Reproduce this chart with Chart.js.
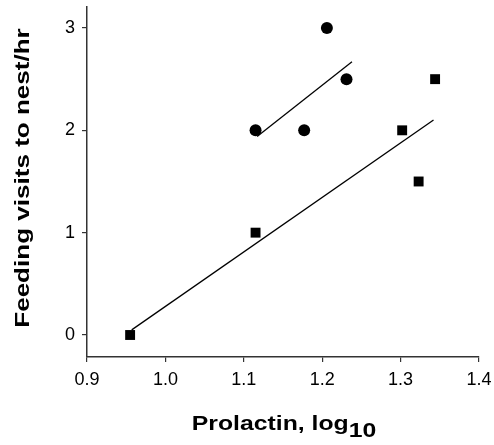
<!DOCTYPE html>
<html>
<head>
<meta charset="utf-8">
<script src="https://cdn.jsdelivr.net/npm/chart.js@4"></script>
<style>
  html, body { margin: 0; padding: 0; background: #fff; }
  #wrap { width: 494px; height: 445px; }
</style>
</head>
<body>
<div id="wrap"><canvas id="chart" width="494" height="445"></canvas></div>
<script>
// Data
const circleX = [1.115, 1.177, 1.206, 1.231];
const circleY = [2, 2, 3, 2.5];
const squareX = [0.955, 1.115, 1.302, 1.323, 1.344];
const squareY = [0, 1, 2, 1.5, 2.5];

// Regression line end points
const circleFitX = [1.117, 1.238];
const circleFitY = [1.94, 2.67];
const squareFitX = [0.957, 1.342];
const squareFitY = [0.05, 2.10];

// Tick labels
const xTickValues = [0.9, 1.0, 1.1, 1.2, 1.3, 1.4];
const yTickValues = [0, 1, 2, 3];

const xTitle = 'Prolactin, log';
const xTitleSub = '10';
const yTitle = 'Feeding visits to nest/hr';

function toPoints(xs, ys) {
    return xs.map((x, i) => ({ x: x, y: ys[i] }));
}

// Draws the axis titles (x title has a lowered "10")
const axisTitles = {
    id: 'axisTitles',
    afterDraw(chart) {
        const ctx = chart.ctx;
        ctx.save();
        ctx.fillStyle = '#000';
        ctx.font = 'bold 21px "Liberation Sans", Arial, sans-serif';
        ctx.textBaseline = 'alphabetic';

        // x title
        const stretchX = 1.18;
        const w1 = ctx.measureText(xTitle).width;
        const w2 = ctx.measureText(xTitleSub).width;
        const total = (w1 + w2) * stretchX;
        ctx.save();
        ctx.translate(284 - total / 2, 430);
        ctx.scale(stretchX, 1);
        ctx.textAlign = 'left';
        ctx.fillText(xTitle, 0, 0);
        ctx.fillText(xTitleSub, w1, 7);
        ctx.restore();

        // y title
        ctx.save();
        ctx.translate(29, 178);
        ctx.rotate(-Math.PI / 2);
        ctx.scale(1.24, 1);
        ctx.textAlign = 'center';
        ctx.fillText(yTitle, 0, 0);
        ctx.restore();

        ctx.restore();
    }
};

// keep the plot box where the reference has it, labels may overflow
function noLabelPadding(scale) {
    scale.paddingTop = 0;
    scale.paddingBottom = 0;
    scale.paddingLeft = 0;
    scale.paddingRight = 0;
}

const axisColor = '#333';
const tickFont = { family: '"Liberation Sans", Arial, sans-serif', size: 18 };

new Chart(document.getElementById('chart'), {
    type: 'scatter',
    data: {
        datasets: [
            {
                label: 'circles',
                data: toPoints(circleX, circleY),
                pointStyle: 'circle',
                pointRadius: 6,
                backgroundColor: '#000',
                borderColor: '#000',
                borderWidth: 0
            },
            {
                label: 'squares',
                data: toPoints(squareX, squareY),
                pointStyle: 'rect',
                pointRadius: 7,
                backgroundColor: '#000',
                borderColor: '#000',
                borderWidth: 0
            },
            {
                label: 'circle fit',
                type: 'line',
                data: toPoints(circleFitX, circleFitY),
                borderColor: '#000',
                borderWidth: 1.3,
                pointRadius: 0,
                fill: false,
                tension: 0
            },
            {
                label: 'square fit',
                type: 'line',
                data: toPoints(squareFitX, squareFitY),
                borderColor: '#000',
                borderWidth: 1.3,
                pointRadius: 0,
                fill: false,
                tension: 0
            }
        ]
    },
    options: {
        responsive: false,
        animation: false,
        layout: { padding: { left: 0, right: 15, top: 7, bottom: 0 } },
        plugins: {
            legend: { display: false },
            tooltip: { enabled: false }
        },
        scales: {
            x: {
                type: 'linear',
                min: 0.9,
                max: 1.4,
                afterBuildTicks: scale => {
                    scale.ticks = xTickValues.map(v => ({ value: v }));
                },
                afterFit: scale => {
                    scale.height = 88;
                    noLabelPadding(scale);
                },
                ticks: {
                    color: '#000',
                    font: tickFont,
                    padding: 7,
                    maxRotation: 0,
                    callback: v => Number(v).toFixed(1)
                },
                grid: {
                    display: true,
                    drawOnChartArea: false,
                    drawTicks: true,
                    tickLength: 5,
                    color: axisColor,
                    lineWidth: 1.2
                },
                border: { display: true, color: axisColor, width: 1.5 }
            },
            y: {
                type: 'linear',
                min: -0.215,
                max: 3.205,
                afterBuildTicks: scale => {
                    scale.ticks = yTickValues.map(v => ({ value: v }));
                },
                afterFit: scale => {
                    scale.width = 87;
                    noLabelPadding(scale);
                },
                ticks: {
                    color: '#000',
                    font: tickFont,
                    padding: 7,
                    callback: v => String(v)
                },
                grid: {
                    display: true,
                    drawOnChartArea: false,
                    drawTicks: true,
                    tickLength: 5,
                    color: axisColor,
                    lineWidth: 1.2
                },
                border: { display: true, color: axisColor, width: 1.5 }
            }
        }
    },
    plugins: [axisTitles]
});
</script>
</body>
</html>
